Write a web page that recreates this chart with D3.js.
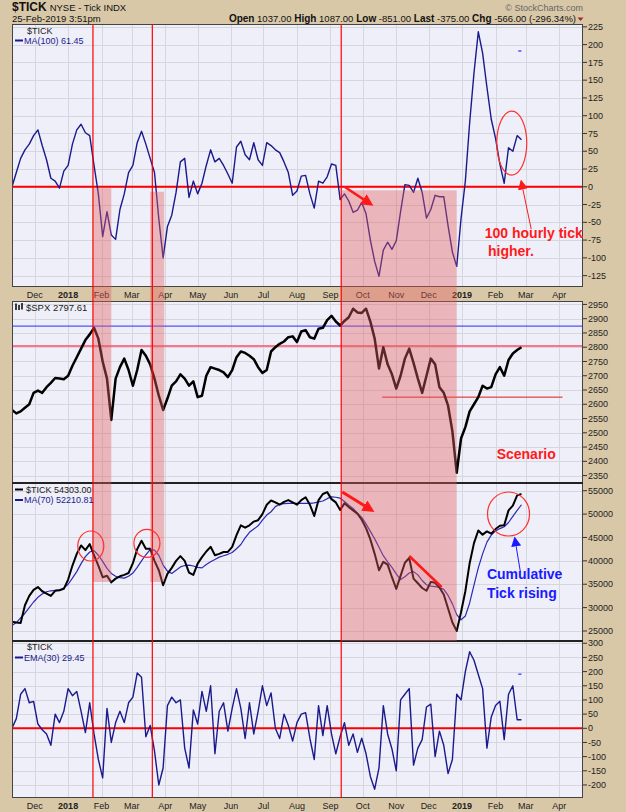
<!DOCTYPE html>
<html>
<head>
<meta charset="utf-8">
<title>$TICK NYSE - Tick INDX</title>
<script src="https://cdn.jsdelivr.net/npm/d3@7"></script>
<style>
  body { margin: 0; background: #d9c8a8; }
  svg { display: block; }
  text { font-family: "Liberation Sans", Arial, sans-serif; }
</style>
</head>
<body>
<div id="chart"></div>
<script>
// samples are taken every 4 calendar days from this date
var sampleStart = "2017-11-10";
var sampleStep = 4;

var tickMA100 = [0,20,40,52,60,72,80,58,38,12,
  8,-2,22,30,60,80,88,76,72,30,
  -10,-70,-35,-68,-74,-32,-10,20,30,62,
  78,60,40,20,-45,-100,-56,-40,-8,35,
  40,-15,8,-10,5,30,52,35,40,30,
  18,5,56,64,45,38,62,38,30,62,
  58,52,48,35,20,-12,-6,15,16,-10,
  -30,8,5,14,32,30,-18,-10,-20,-36,
  -33,-22,-38,-75,-105,-126,-89,-78,-88,-76,
  -35,3,2,-8,12,-8,-44,-32,-12,-14,
  -14,-55,-92,-112,-45,8,90,160,218,188,
  140,95,68,32,5,55,50,72,66];

var spxClose = [2580,2568,2575,2588,2600,2640,2648,2640,2660,2675,
  2692,2690,2688,2700,2735,2765,2795,2825,2845,2868,
  2830,2750,2690,2545,2690,2730,2760,2720,2665,2720,
  2790,2770,2740,2690,2630,2580,2620,2665,2680,2705,
  2690,2665,2680,2625,2630,2700,2730,2725,2720,2712,
  2695,2720,2765,2785,2780,2770,2758,2730,2710,2720,
  2785,2800,2812,2820,2835,2838,2818,2855,2860,2835,
  2830,2865,2868,2895,2910,2890,2876,2892,2905,2935,
  2922,2920,2935,2890,2830,2725,2800,2740,2705,2655,
  2700,2760,2795,2745,2690,2640,2700,2760,2740,2660,
  2640,2595,2505,2360,2480,2520,2575,2600,2625,2665,
  2655,2660,2705,2730,2700,2755,2778,2790,2800];

var cumTick = [27000,26800,26700,30500,32500,33800,34400,33500,33000,32500,
  33600,33700,34000,36000,39000,41500,43300,42300,43600,41200,
  39000,36500,36800,35400,36200,36700,37000,37400,39500,42500,
  44300,42600,42600,40000,38000,34800,37200,38500,40000,41000,
  40000,37500,37000,39400,40800,42000,43000,41200,41500,41900,
  41900,43000,45500,47600,47100,47600,48400,48700,50000,52000,
  52900,52500,52000,52600,53000,52500,52000,53000,53600,52000,
  49600,53000,54300,54700,53200,52500,50900,52300,51500,50800,
  50100,48800,47000,44600,41500,38000,39800,39200,36500,34000,
  36800,39600,40600,36200,35200,34200,33600,35500,35300,34300,
  32800,29800,26800,25000,29000,33500,39500,43800,46500,45600,
  46300,45800,46800,47500,47600,50800,51800,54000,54300];

var cumTickMA70 = [26200,26800,27800,28800,30000,31200,32200,32900,33400,33600,
  33700,33800,34200,35000,36300,37700,39400,40900,41900,42200,
  41200,39900,38400,37300,36700,36400,36300,36700,37400,38600,
  40000,41300,42400,42300,41200,39100,37800,37300,38000,38700,
  39000,39100,38900,38600,38500,39200,39800,40300,40800,41100,
  41400,41800,42600,43500,44900,46100,46800,47500,48700,49800,
  50500,51600,52100,52250,52300,52300,52300,52300,52300,52300,
  52400,52600,52800,53300,53700,53600,53400,52700,51900,51200,
  50200,49300,47900,46300,44700,42900,41100,39800,38600,37200,
  36000,36600,37400,37700,37000,35800,34900,34600,34500,34300,
  33900,32600,30800,28500,27400,28200,31000,34800,38500,41500,
  44000,45500,46400,46900,47300,48200,49500,50800,52000];

var tickEMA30 = [0,34,120,140,90,95,15,-5,-20,-60,
  50,20,60,140,115,130,60,-15,90,-20,
  -110,-175,70,-50,20,60,20,90,110,195,
  180,-30,10,-80,-200,-140,80,110,90,100,
  -70,-140,65,15,130,60,150,-90,60,90,
  -10,70,140,70,-36,90,-20,60,150,80,
  125,0,-36,50,10,-45,20,50,55,-36,
  -110,80,-26,80,-20,-90,-30,20,-60,-20,
  -85,-35,-90,-170,-215,-140,80,-20,-73,-150,
  100,120,140,-130,-70,-40,75,85,-100,-10,
  -60,-160,-110,120,100,200,270,240,190,140,
  -70,40,80,95,-40,120,150,30,30];

var monthDates = ["2017-12-01","2018-01-01","2018-02-01","2018-03-01","2018-04-01","2018-05-01",
  "2018-06-01","2018-07-01","2018-08-01","2018-09-01","2018-10-01","2018-11-01","2018-12-01",
  "2019-01-01","2019-02-01","2019-03-01","2019-04-01"];
var monthLabels = ["Dec","2018","Feb","Mar","Apr","May","Jun","Jul","Aug","Sep","Oct","Nov","Dec",
  "2019","Feb","Mar","Apr"];

var tickTicks = [225,200,175,150,125,100,75,50,25,0,-25,-50,-75,-100,-125];
var spxTicks = [2950,2900,2850,2800,2750,2700,2650,2600,2550,2500,2450,2400,2350];
var cumTicks = [55000,50000,45000,40000,35000,30000,25000];
var emaTicks = [300,250,200,150,100,50,0,-50,-100,-150,-200];

// annotations
var redLineDates = ["2018-01-24","2018-03-20","2018-09-11"];
var bandStarts = ["2018-01-24","2018-03-18","2018-09-11"];
var bandEnds = ["2018-02-10","2018-03-31","2018-12-27"];
var bandTopTick = [-2,-7,-5];
var bandBottomCum = [35480,35480,22860];
var spxLevels = [2874,2804];
var spxSupport = ["2018-10-19","2019-04-04",2625];

var parse = d3.timeParse("%Y-%m-%d");
var dates = d3.range(tickMA100.length).map(function(i) {
  return d3.timeDay.offset(parse(sampleStart), i * sampleStep);
});

var W = 626, H = 812, L = 12, R = 583;
var x = d3.scaleTime().domain([parse("2017-11-10"), parse("2019-04-23")]).range([L, R]);

var panels = [
  {top: 24, bottom: 287, domain: [-141, 229], ticks: tickTicks},
  {top: 301, bottom: 483, domain: [2324, 2962], ticks: spxTicks},
  {top: 483, bottom: 641, domain: [22860, 56650], ticks: cumTicks},
  {top: 641, bottom: 798, domain: [-246, 308], ticks: emaTicks}
];
panels.forEach(function(p) {
  p.y = d3.scaleLinear().domain(p.domain).range([p.bottom, p.top]);
});
var y1 = panels[0].y, y2 = panels[1].y, y3 = panels[2].y, y4 = panels[3].y;

var svg = d3.select("#chart").append("svg").attr("width", W).attr("height", H);
svg.append("rect").attr("width", W).attr("height", H).attr("fill", "#d9c8a8");

var defs = svg.append("defs");
panels.forEach(function(p, i) {
  defs.append("clipPath").attr("id", "clip" + i).append("rect")
    .attr("x", L).attr("y", p.top).attr("width", R - L).attr("height", p.bottom - p.top);
});
function marker(id, color, size) {
  defs.append("marker").attr("id", id)
    .attr("viewBox", "0 0 10 10").attr("refX", 7).attr("refY", 5)
    .attr("markerWidth", size).attr("markerHeight", size)
    .attr("markerUnits", "userSpaceOnUse").attr("orient", "auto")
    .append("path").attr("d", "M0,0L10,5L0,10z").attr("fill", color);
}
marker("headRedBig", "#ff1a1a", 12);
marker("headRedSmall", "#ff1a1a", 10);
marker("headBlue", "#1a1aff", 10);

// panel backgrounds, grids, axes
panels.forEach(function(p, i) {
  var g = svg.append("g");
  g.append("rect").attr("x", L).attr("y", p.top).attr("width", R - L).attr("height", p.bottom - p.top)
    .attr("fill", "#eeeff8");
  g.selectAll(".hg").data(p.ticks).enter().append("line")
    .attr("x1", L).attr("x2", R)
    .attr("y1", function(d) { return Math.round(p.y(d)) + 0.5; })
    .attr("y2", function(d) { return Math.round(p.y(d)) + 0.5; })
    .attr("stroke", "#d6d6de").attr("stroke-width", 1);
  g.selectAll(".vg").data(monthDates).enter().append("line")
    .attr("y1", p.top).attr("y2", p.bottom)
    .attr("x1", function(d) { return Math.round(x(parse(d))) + 0.5; })
    .attr("x2", function(d) { return Math.round(x(parse(d))) + 0.5; })
    .attr("stroke", "#d6d6de").attr("stroke-width", 1);
  // right axis
  g.selectAll(".tk").data(p.ticks).enter().append("line")
    .attr("x1", R).attr("x2", R + 4)
    .attr("y1", function(d) { return p.y(d); }).attr("y2", function(d) { return p.y(d); })
    .attr("stroke", "#333");
  g.selectAll(".tl").data(p.ticks).enter().append("text")
    .attr("x", R + 5).attr("y", function(d) { return p.y(d); }).attr("dy", "0.35em")
    .attr("font-size", 9).attr("fill", "#222")
    .text(function(d) { return d; });
});

// x axis labels (between panel 1 and 2, and at the bottom)
[297.5, 809].forEach(function(yy) {
  svg.append("g").selectAll("text").data(monthDates).enter().append("text")
    .attr("x", function(d) { return x(parse(d)); }).attr("y", yy)
    .attr("text-anchor", "middle").attr("font-size", 9).attr("fill", "#222")
    .attr("font-weight", function(d, i) { return /^\d/.test(monthLabels[i]) ? "bold" : "normal"; })
    .text(function(d, i) { return monthLabels[i]; });
});

// zero lines and levels
svg.append("line").attr("x1", L).attr("x2", R).attr("y1", y1(0)).attr("y2", y1(0))
  .attr("stroke", "#ff0000").attr("stroke-width", 2);
svg.append("line").attr("x1", L).attr("x2", R).attr("y1", y4(0)).attr("y2", y4(0))
  .attr("stroke", "#ff0000").attr("stroke-width", 2);
svg.selectAll(".lvl").data(spxLevels).enter().append("line")
  .attr("x1", L).attr("x2", R).attr("y1", function(d) { return y2(d); }).attr("y2", function(d) { return y2(d); })
  .attr("stroke", function(d, i) { return i === 0 ? "#2a2aff" : "#ff4d6a"; })
  .attr("stroke-width", function(d, i) { return i === 0 ? 1 : 1.5; });
svg.append("line")
  .attr("x1", x(parse(spxSupport[0]))).attr("x2", x(parse(spxSupport[1])))
  .attr("y1", y2(spxSupport[2])).attr("y2", y2(spxSupport[2]))
  .attr("stroke", "#e01818").attr("stroke-width", 1);

// series
function drawLine(values, y, clip, color, width) {
  var line = d3.line().x(function(d, i) { return x(dates[i]); }).y(function(d) { return y(d); });
  svg.append("path").datum(values).attr("d", line).attr("clip-path", "url(#" + clip + ")")
    .attr("fill", "none").attr("stroke", color).attr("stroke-width", width)
    .attr("stroke-linejoin", "round");
}
drawLine(tickMA100, y1, "clip0", "#1a1a8c", 1.4);
drawLine(spxClose, y2, "clip1", "#000", 2.5);
drawLine(cumTickMA70, y3, "clip2", "#2a2ab4", 1.2);
drawLine(cumTick, y3, "clip2", "#000", 2);
drawLine(tickEMA30, y4, "clip3", "#1a1a8c", 1.4);

// panel borders
panels.forEach(function(p) {
  svg.append("rect").attr("x", L + 0.5).attr("y", p.top + 0.5).attr("width", R - L - 1).attr("height", p.bottom - p.top - 1)
    .attr("fill", "none").attr("stroke", "#444").attr("stroke-width", 1);
});
[483, 641].forEach(function(yy) {
  svg.append("line").attr("x1", L).attr("x2", R).attr("y1", yy).attr("y2", yy)
    .attr("stroke", "#222").attr("stroke-width", 2);
});

// shaded bands (drawn over the lines, as the reference does)
svg.selectAll(".band").data(bandStarts).enter().append("rect")
  .attr("x", function(d) { return x(parse(d)); })
  .attr("width", function(d, i) { return x(parse(bandEnds[i])) - x(parse(d)); })
  .attr("y", function(d, i) { return y1(bandTopTick[i]); })
  .attr("height", function(d, i) { return y3(bandBottomCum[i]) - y1(bandTopTick[i]); })
  .attr("fill", "rgba(228,96,96,0.4)");

// vertical red lines
svg.selectAll(".vr").data(redLineDates).enter().append("line")
  .attr("x1", function(d) { return x(parse(d)); }).attr("x2", function(d) { return x(parse(d)); })
  .attr("y1", panels[0].top).attr("y2", panels[3].bottom)
  .attr("stroke", "#ff0000").attr("stroke-width", 1.2);

// legends
var navy = "#1a1a8c";
svg.append("text").attr("x", 27).attr("y", 33.5).attr("font-size", 9).attr("fill", "#222").text("$TICK");
svg.append("line").attr("x1", 15).attr("x2", 23).attr("y1", 40.5).attr("y2", 40.5).attr("stroke", navy).attr("stroke-width", 2);
svg.append("text").attr("x", 24).attr("y", 43.5).attr("font-size", 9).attr("fill", navy).text("MA(100) 61.45");

var icon = svg.append("g").attr("stroke", "#000").attr("stroke-width", 1.5);
icon.append("line").attr("x1", 16).attr("x2", 16).attr("y1", 303.5).attr("y2", 310);
icon.append("line").attr("x1", 19).attr("x2", 19).attr("y1", 305).attr("y2", 310);
icon.append("line").attr("x1", 22).attr("x2", 22).attr("y1", 303).attr("y2", 309.5);
svg.append("text").attr("x", 26).attr("y", 310.5).attr("font-size", 9.5).attr("fill", "#222").text("$SPX 2797.61");

svg.append("line").attr("x1", 15).attr("x2", 23).attr("y1", 489.5).attr("y2", 489.5).attr("stroke", "#000").attr("stroke-width", 2);
svg.append("text").attr("x", 26).attr("y", 492.5).attr("font-size", 9).attr("fill", "#222").text("$TICK 54303.00");
svg.append("line").attr("x1", 15).attr("x2", 23).attr("y1", 500).attr("y2", 500).attr("stroke", navy).attr("stroke-width", 2);
svg.append("text").attr("x", 24).attr("y", 503).attr("font-size", 9).attr("fill", navy).text("MA(70) 52210.81");

svg.append("text").attr("x", 27).attr("y", 650).attr("font-size", 9).attr("fill", "#222").text("$TICK");
svg.append("line").attr("x1", 15).attr("x2", 23).attr("y1", 657.5).attr("y2", 657.5).attr("stroke", navy).attr("stroke-width", 2);
svg.append("text").attr("x", 24).attr("y", 660.5).attr("font-size", 9).attr("fill", navy).text("EMA(30) 29.45");

// last-value markers
svg.append("line").attr("x1", x(parse("2019-02-22"))).attr("x2", x(parse("2019-02-25")))
  .attr("y1", y1(191)).attr("y2", y1(191)).attr("stroke", "#2a2aff").attr("stroke-width", 1.2);
svg.append("line").attr("x1", x(parse("2019-02-22"))).attr("x2", x(parse("2019-02-25")))
  .attr("y1", y4(191)).attr("y2", y4(191)).attr("stroke", "#2a2aff").attr("stroke-width", 1.2);

// header
var h1 = svg.append("text").attr("x", 12).attr("y", 11).attr("fill", "#111");
h1.append("tspan").attr("font-weight", "bold").attr("font-size", 12).text("$TICK");
h1.append("tspan").attr("font-size", 9.5).attr("dx", 3).text("NYSE - Tick INDX");
svg.append("text").attr("x", 12).attr("y", 21.5).attr("font-size", 9.5).attr("fill", "#111").text("25-Feb-2019 3:51pm");
svg.append("text").attr("x", R).attr("y", 10.5).attr("text-anchor", "end").attr("font-size", 9).attr("fill", "#666")
  .text("\u00a9 StockCharts.com");
var quote = [["Open", "1037.00"], ["High", "1087.00"], ["Low", "-851.00"], ["Last", "-375.00"], ["Chg", "-566.00 (-296.34%)"]];
var q = svg.append("text").attr("x", 576).attr("y", 21.5).attr("text-anchor", "end").attr("fill", "#111");
quote.forEach(function(d, i) {
  q.append("tspan").attr("font-weight", "bold").attr("font-size", 10).text((i ? " " : "") + d[0]);
  q.append("tspan").attr("font-size", 9.5).text(" " + d[1]);
});
svg.append("path").attr("d", "M577.5,17.5L583.5,17.5L580.5,21z").attr("fill", "#a02828");

// annotations
function pt(d, v, y) { return [x(parse(d)), y(v)]; }
function arrow(a, b, color, width, head) {
  svg.append("line").attr("x1", a[0]).attr("y1", a[1]).attr("x2", b[0]).attr("y2", b[1])
    .attr("stroke", color).attr("stroke-width", width).attr("marker-end", "url(#" + head + ")");
}
arrow(pt("2018-09-14", 0, y1), pt("2018-10-08", -24, y1), "#ff1a1a", 2.5, "headRedBig");
arrow(pt("2019-03-06", -59.5, y1), pt("2019-02-25", 6, y1), "#ff1a1a", 1, "headRedSmall");
arrow(pt("2018-09-12", 54720, y3), pt("2018-10-09", 50870, y3), "#ff1a1a", 3, "headRedBig");
arrow(pt("2019-02-24", 37620, y3), pt("2019-02-19", 44600, y3), "#1a1aff", 1, "headBlue");
var rl = [pt("2018-11-13", 41040, y3), pt("2018-12-13", 34410, y3)];
svg.append("line").attr("x1", rl[0][0]).attr("y1", rl[0][1]).attr("x2", rl[1][0]).attr("y2", rl[1][1])
  .attr("stroke", "#ff1a1a").attr("stroke-width", 2.5);

var ellipses = [
  [pt("2019-02-16", 61.5, y1), 15, 32],
  [pt("2018-01-22", 43180, y3), 13, 15],
  [pt("2018-03-15", 43750, y3), 13, 14],
  [pt("2019-02-13", 50020, y3), 21, 22]
];
svg.selectAll(".ell").data(ellipses).enter().append("ellipse")
  .attr("cx", function(d) { return d[0][0]; }).attr("cy", function(d) { return d[0][1]; })
  .attr("rx", function(d) { return d[1]; }).attr("ry", function(d) { return d[2]; })
  .attr("fill", "none").attr("stroke", "#ff3030").attr("stroke-width", 1.2);

function note(txt, p, color) {
  svg.append("text").attr("x", p[0]).attr("y", p[1]).attr("font-size", 14).attr("font-weight", "bold")
    .attr("fill", color).text(txt);
}
note("100 hourly tick", pt("2019-01-22", -72, y1), "#ff1a1a");
note("higher.", pt("2019-01-25", -97.5, y1), "#ff1a1a");
note("Scenario", pt("2019-02-02", 2408, y2), "#ff1a1a");
note("Cumulative", pt("2019-01-24", 36120, y3), "#1a1aff");
note("Tick rising", pt("2019-01-24", 32050, y3), "#1a1aff");
</script>
</body>
</html>
